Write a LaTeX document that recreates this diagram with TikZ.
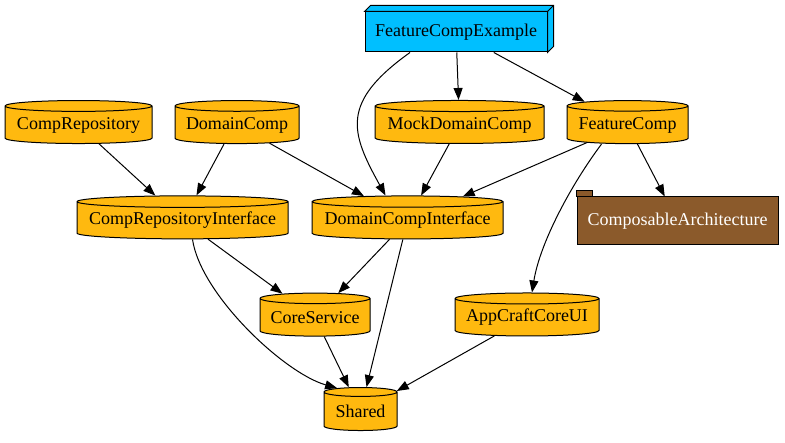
\documentclass[tikz,border=0pt]{standalone}
\usepackage{fontspec}
\setmainfont{Liberation Serif}
\usetikzlibrary{shapes.geometric,arrows.meta}
\definecolor{pkgyellow}{RGB}{255,185,15}
\definecolor{appblue}{RGB}{0,191,255}
\definecolor{libbrown}{RGB}{139,90,43}
\begin{document}
\begin{tikzpicture}[x=1pt, y=1pt,
		pkg/.style={cylinder, shape border rotate=90, draw, fill=pkgyellow, line width=1pt, inner sep=0pt, minimum height=43pt, minimum width=#1pt, /utils/exec={\pgfmathsetmacro\pkgaspect{13/#1}}, aspect=\pkgaspect, font=\fontsize{18}{22}\selectfont},
		dep/.style={-{Triangle[length=12pt,width=9pt]}, line width=1pt}]
		\useasboundingbox (0,0) rectangle (785,443);
		\node [draw, fill=appblue, line width=1pt, minimum width=182pt, minimum height=40pt, font=\fontsize{18}{22}\selectfont] (example) at (456,411) {FeatureCompExample};
		\filldraw [fill=appblue, line width=1pt] (example.north west) -- ++(6,6) -- ([shift={(6,6)}]example.north east) -- ([shift={(6,6)}]example.south east) -- (example.south east) -- (example.north east) -- cycle;
		\draw [line width=1pt] (example.north east) -- ++(6,6);
		\node [pkg=147] (repo) at (78.5,318) {CompRepository};
		\node [pkg=124] (domain) at (237,318) {DomainComp};
		\node [pkg=169] (mock) at (459.5,318) {MockDomainComp};
		\node [pkg=121] (feature) at (627.5,318) {FeatureComp};
		\node [pkg=211] (repoif) at (182.5,222.5) {CompRepositoryInterface};
		\node [pkg=191] (domainif) at (407.5,222.5) {DomainCompInterface};
		\node [draw, fill=libbrown, text=white, line width=1pt, minimum width=201pt, minimum height=48pt, font=\fontsize{18}{22}\selectfont] (tca) at (677.5,222) {ComposableArchitecture};
		\filldraw [fill=libbrown, line width=1pt] (tca.north west) rectangle ++(16,6);
		\node [pkg=110] (core) at (315,125.5) {CoreService};
		\node [pkg=144] (ui) at (527,125.5) {AppCraftCoreUI};
		\node [pkg=73] (shared) at (360.5,31.5) {Shared};
		\draw [dep] ([xshift=-46pt]example.south) .. controls +(-70,-50) and +(-35,63) .. ([xshift=-22pt]domainif.north);
		\draw [dep] (example) -- (mock);
		\draw [dep] (example) -- (feature);
		\draw [dep] (repo) -- (repoif);
		\draw [dep] ([xshift=-13pt]domain.south) -- ([xshift=14pt]repoif.north);
		\draw [dep] (domain) -- (domainif);
		\draw [dep] (mock) -- (domainif);
		\draw [dep] (feature) -- (domainif);
		\draw [dep] (feature) -- (tca);
		\draw [dep] ([xshift=-26pt]feature.south) .. controls +(-30,-40) and +(8,50) .. ([xshift=5pt]ui.north);
		\draw [dep] (repoif) -- (core);
		\draw [dep] ([xshift=10pt]repoif.south) .. controls +(8,-55) and +(-53,15) .. (shared.north west);
		\draw [dep] (domainif) -- (core);
		\draw [dep] (domainif) -- (shared);
		\draw [dep] (core) -- (shared);
		\draw [dep] (ui) -- (shared);
	\end{tikzpicture}
\end{document}
